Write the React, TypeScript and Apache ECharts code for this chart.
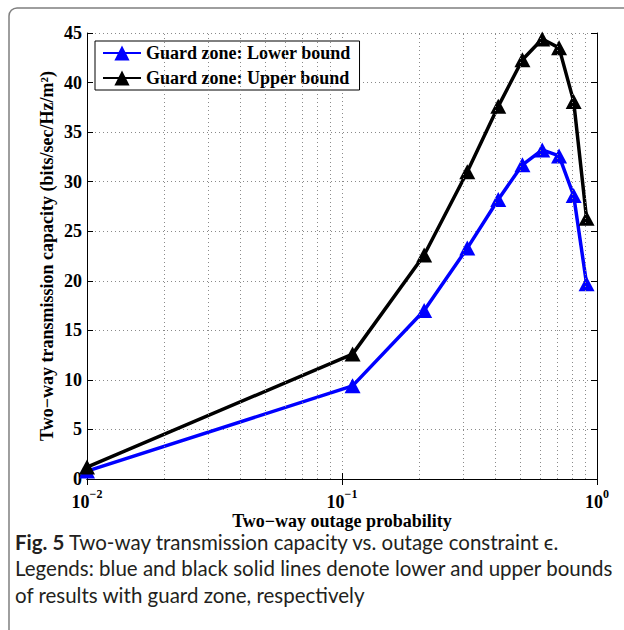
import React, { useEffect, useRef } from "react";
import * as echarts from "echarts";

const xValues = [0.01, 0.11, 0.21, 0.31, 0.41, 0.51, 0.61, 0.71, 0.81, 0.91];
const lowerBound = [0.8, 9.4, 17.0, 23.3, 28.2, 31.7, 33.2, 32.6, 28.6, 19.7];
const upperBound = [1.2, 12.6, 22.6, 31.0, 37.6, 42.3, 44.4, 43.5, 38.1, 26.3];
const minorGridX = [0.02, 0.03, 0.04, 0.05, 0.06, 0.07, 0.08, 0.09, 0.2, 0.3, 0.4, 0.5, 0.6, 0.7, 0.8, 0.9];
const seriesNames = ["Guard zone: Lower bound", "Guard zone: Upper bound"];
const xTitle = "Two\u2212way outage probability";
const yTitle = "Two\u2212way transmission capacity (bits/sec/Hz/m\u00B2)";
const captionLines = [
  "{b|Fig. 5} Two-way transmission capacity vs. outage constraint \u03F5.",
  "Legends: blue and black solid lines denote lower and upper bounds",
  "of results with guard zone, respectively",
];

const SERIF = "'Liberation Serif', 'Times New Roman', serif";
const SANS = "Lato, 'Noto Sans', sans-serif";

export default function App() {
  const ref = useRef<HTMLDivElement>(null);
  useEffect(() => {
    if (!ref.current) return;
    const chart = echarts.init(ref.current, null, { renderer: "svg" });
    const gridStyle = { type: [1, 3] as number[], color: "#8a8a8a", width: 1 };
    const yAxisBase = {
      type: "value" as const,
      min: 0,
      max: 45,
      interval: 5,
    };
    const xAxisBase = {
      type: "log" as const,
      logBase: 10,
      min: 0.01,
      max: 1,
    };
    chart.setOption({
      animation: false,
      backgroundColor: "#fff",
      grid: { left: 87, top: 33, width: 510, height: 446, containLabel: false },
      legend: {
        data: seriesNames,
        orient: "vertical",
        left: 95,
        top: 41,
        backgroundColor: "#fff",
        borderColor: "#000",
        borderWidth: 1,
        padding: [3, 9, 3, 7],
        itemWidth: 38,
        itemHeight: 19,
        itemGap: 7,
        textStyle: { fontFamily: SERIF, fontWeight: "bold", fontSize: 18, color: "#000", lineHeight: 18 },
      },
      xAxis: [
        {
          ...xAxisBase,
          position: "bottom",
          name: xTitle,
          nameLocation: "middle",
          nameGap: 36,
          nameMoveOverlap: false,
          nameTextStyle: { fontFamily: SERIF, fontWeight: "bold", fontSize: 18, color: "#000", lineHeight: 12 },
          axisLine: { show: true, lineStyle: { color: "#000", width: 1 } },
          axisTick: { show: true, inside: true, length: 6, lineStyle: { color: "#000" } },
          splitLine: { show: true, lineStyle: gridStyle },
          axisLabel: {
            margin: 14,
            formatter: (v: number) => {
              const e = Math.round(Math.log10(v));
              return `{b|10}{s|${e < 0 ? "\u2212" + -e : e}}`;
            },
            rich: {
              b: { fontFamily: SERIF, fontWeight: "bold", fontSize: 18, color: "#000", lineHeight: 12, padding: [6.5, 0, 0, 0] },
              s: { fontFamily: SERIF, fontWeight: "bold", fontSize: 12, color: "#000", lineHeight: 8, padding: [0, 0, 10.5, 0] },
            },
          },
        },
        {
          ...xAxisBase,
          position: "top",
          axisLine: { show: true, lineStyle: { color: "#000", width: 1 } },
          axisTick: { show: true, inside: true, length: 6, lineStyle: { color: "#000" } },
          axisLabel: { show: false },
          splitLine: { show: false },
        },
      ],
      yAxis: [
        {
          ...yAxisBase,
          position: "left",
          name: yTitle,
          nameLocation: "middle",
          nameGap: 31,
          nameMoveOverlap: false,
          nameTextStyle: { fontFamily: SERIF, fontWeight: "bold", fontSize: 18, color: "#000" },
          axisLine: { show: true, lineStyle: { color: "#000", width: 1 } },
          axisTick: { show: true, inside: true, length: 6, lineStyle: { color: "#000" } },
          splitLine: { show: true, lineStyle: gridStyle },
          axisLabel: { margin: 5, fontFamily: SERIF, fontWeight: "bold", fontSize: 18, color: "#000" },
        },
        {
          ...yAxisBase,
          position: "right",
          axisLine: { show: true, lineStyle: { color: "#000", width: 1 } },
          axisTick: { show: true, inside: true, length: 6, lineStyle: { color: "#000" } },
          axisLabel: { show: false },
          splitLine: { show: false },
        },
      ],
      series: [
        {
          name: "minor-grid",
          type: "line",
          data: [],
          silent: true,
          z: 1,
          markLine: {
            silent: true,
            symbol: ["none", "none"],
            label: { show: false },
            lineStyle: gridStyle,
            emphasis: { disabled: true },
            data: minorGridX.map((v) => ({ xAxis: v })),
          },
        },
        {
          name: seriesNames[0],
          type: "line",
          data: xValues.map((x, i) => [x, lowerBound[i]]),
          symbol: "triangle",
          symbolSize: [16, 15],
          color: "#0000ff",
          lineStyle: { color: "#0000ff", width: 3.5 },
          itemStyle: { color: "#0000ff" },
          z: 3,
        },
        {
          name: seriesNames[1],
          type: "line",
          data: xValues.map((x, i) => [x, upperBound[i]]),
          symbol: "triangle",
          symbolSize: [16, 15],
          color: "#000000",
          lineStyle: { color: "#000000", width: 3.5 },
          itemStyle: { color: "#000000" },
          z: 4,
        },
      ],
      graphic: [
        {
          type: "rect",
          shape: { x: 9, y: 8, width: 700, height: 700, r: 8 },
          style: { fill: "none", stroke: "#7f7f7f", lineWidth: 1.5 },
          silent: true,
        },
        ...captionLines.map((t, i) => ({
          type: "text",
          left: 15,
          top: 530.5 + i * 26.5,
          style: {
            text: t,
            font: `20.5px ${SANS}`,
            lineHeight: 22,
            fill: "#231f20",
            rich: {
              b: { fontFamily: SANS, fontWeight: "bold", fontSize: 20.5, lineHeight: 22, fill: "#231f20" },
            },
          },
        })),
      ],
    });
    return () => chart.dispose();
  }, []);
  return (
    <div
      ref={ref}
      style={{ position: "fixed", left: 0, top: 0, width: 624, height: 630 }}
    />
  );
}
